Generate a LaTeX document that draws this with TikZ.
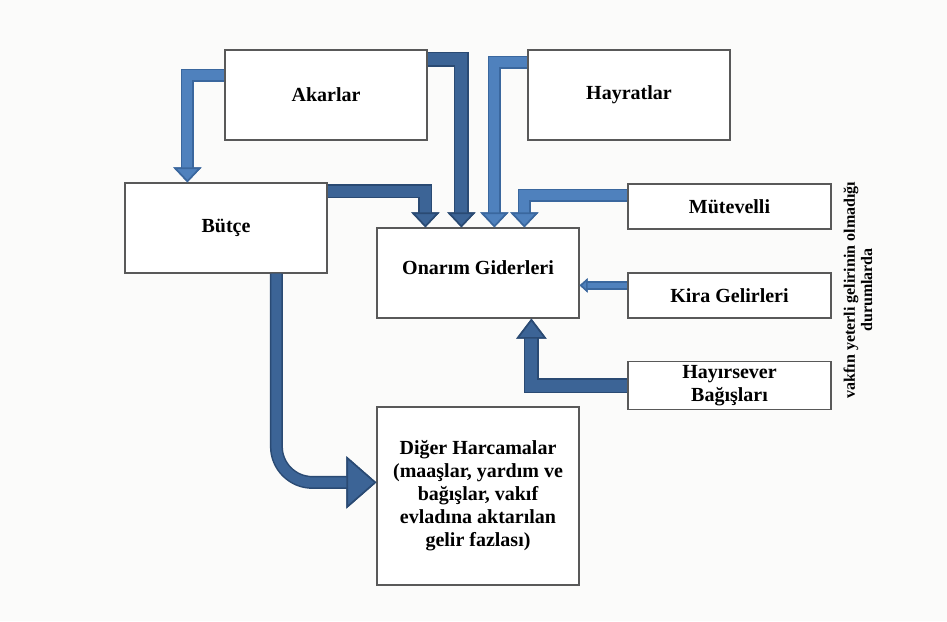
\documentclass[tikz,border=0pt]{standalone}
\usepackage{fontspec}
\setmainfont{Liberation Serif}
\usepackage{xcolor}
\usetikzlibrary{arrows.meta,positioning}
\definecolor{lblue}{HTML}{4F81BD}
\definecolor{ledge}{HTML}{3A679E}
\definecolor{dblue}{HTML}{3C6496}
\definecolor{dedge}{HTML}{2A4A73}
\definecolor{paper}{HTML}{FBFBFA}

\begin{document}
\begin{tikzpicture}[
    x=0.5pt, y=-0.5pt,
    box/.style={rectangle, draw=black!65, line width=0.6pt, fill=white, align=center,
        font=\bfseries\fontsize{10}{11.5}\selectfont, minimum width=101pt, inner sep=2pt},
    bigbox/.style={box, minimum height=45pt},
    smallbox/.style={box, minimum width=101.5pt, minimum height=22.5pt},
    lflow/.style n args={3}{>={Triangle[width=#1, length=#2, line width=0.8pt, fill=lblue, color=ledge]},
        ->, line join=miter, draw=lblue, line width=#3, preaction={draw=ledge, line width=#3+1.5pt, ->}},
    dflow/.style n args={3}{>={Triangle[width=#1, length=#2, line width=0.8pt, fill=dblue, color=dedge]},
        ->, line join=miter, draw=dblue, line width=#3, preaction={draw=dedge, line width=#3+1.5pt, ->}}
]

% page
\fill[paper] (0,0) rectangle (947,621);
\useasboundingbox (0,0) rectangle (947,621);

% boxes
\node[bigbox] (akar) at (326,95) {Akarlar};
\node[bigbox] (hayrat) at (629,95) {Hayratlar};
\node[bigbox] (butce) at (226,228) {Bütçe};
\node[bigbox, text depth=5pt] (onarim) at (478,273) {Onarım Giderleri};
\node[smallbox] (mutev) at (729.5,206.5) {Mütevelli};
\node[smallbox] (kira) at (729.5,295.5) {Kira Gelirleri};
\node[smallbox] (hayir) at (729.5,385.5) {Hayırsever\\Bağışları};
\node[box, minimum height=89pt] (diger) at (478,496)
    {Diğer Harcamalar\\(maaşlar, yardım ve\\bağışlar, vakıf\\evladına aktarılan\\gelir fazlası)};
\node[rotate=90, align=center, font=\bfseries\fontsize{8}{8.6}\selectfont] (note) at (858,290)
    {vakfın yeterli gelirinin olmadığı\\durumlarda};

% flows
\draw[lflow={14pt}{7.5pt}{5pt}] ([yshift=-13pt]akar.north west) -| ([xshift=31.5pt]butce.north west);
\draw[dflow={14pt}{7.5pt}{6pt}] ([yshift=-5pt]akar.north east) -| ([xshift=42.5pt]onarim.north west);
\draw[lflow={14pt}{7.5pt}{5pt}] ([yshift=-6.5pt]hayrat.north west) -| ([xshift=59pt]onarim.north west);
\draw[dflow={14pt}{7.5pt}{5.5pt}] ([yshift=-4.5pt]butce.north east) -| ([xshift=24.5pt]onarim.north west);
\draw[lflow={14pt}{7.5pt}{5pt}] ([yshift=-6pt]mutev.north west) -| ([xshift=74pt]onarim.north west);
\coordinate (kirain) at ([yshift=-6.5pt]kira.north west);
\draw[lflow={7pt}{4pt}{2.8pt}] (kirain) -- (kirain -| onarim.east);
\draw[dflow={15pt}{10pt}{6pt}] ([yshift=-12.5pt]hayir.north west) -| ([xshift=77.5pt]onarim.south west);
\draw[dflow={26pt}{15pt}{5pt}, rounded corners=18pt] ([xshift=76pt]butce.south west) |- ([yshift=-38pt]diger.north west);

\end{tikzpicture}
\end{document}
